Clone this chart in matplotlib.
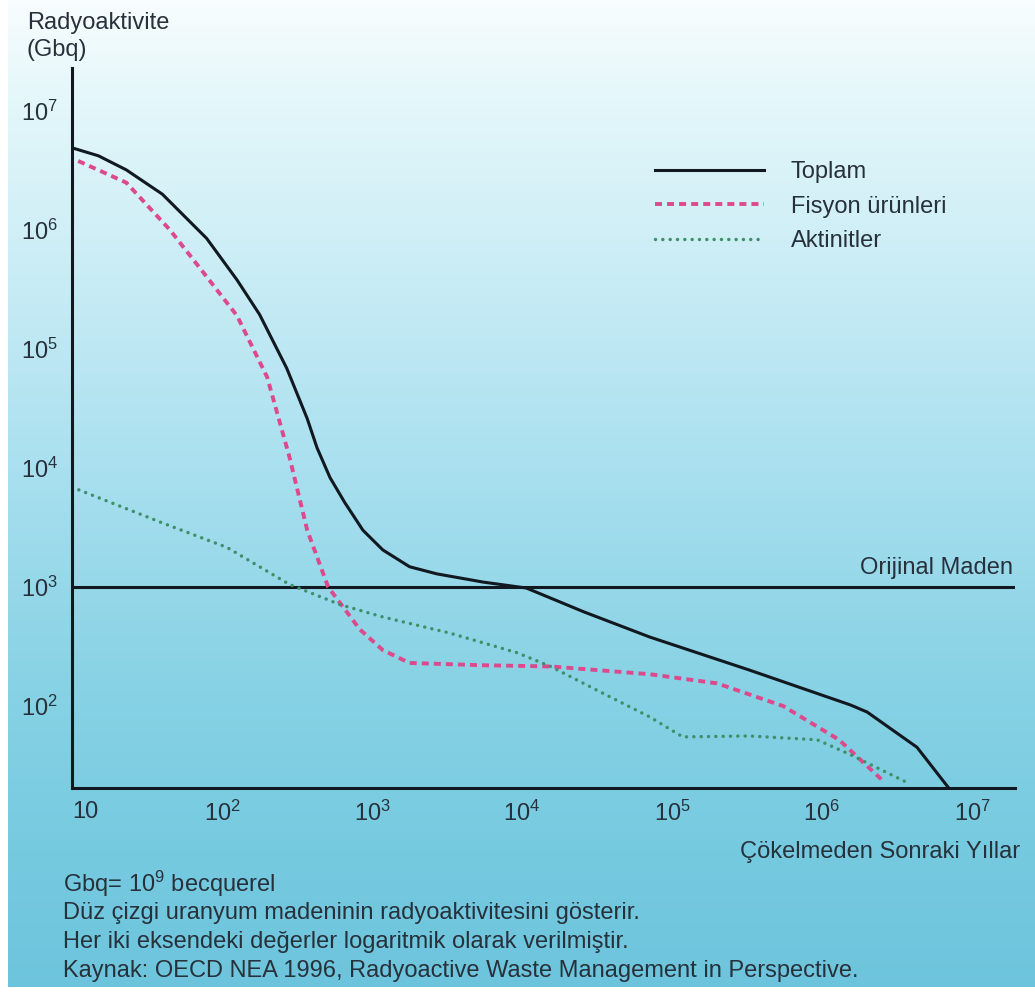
import matplotlib
matplotlib.use('Agg')
import matplotlib.pyplot as plt
import numpy as np
from matplotlib.ticker import NullLocator

plt.rcParams['font.family'] = ['Liberation Sans', 'DejaVu Sans']
plt.rcParams['mathtext.fontset'] = 'custom'
plt.rcParams['mathtext.rm'] = 'Liberation Sans'
plt.rcParams['mathtext.it'] = 'Liberation Sans:italic'

# okunan degerler (log-log grafikten)
toplam_yil = [10, 15, 23, 40, 79, 126, 178, 270, 370, 430, 525, 660, 870, 1180,
              1780, 2700, 5500, 10700, 25700, 71000, 330000, 1550000, 2000000,
              4300000, 7100000]
toplam_gbq = [4.9e6, 4.2e6, 3.2e6, 2.0e6, 8.5e5, 3.8e5, 1.95e5, 6.9e4, 2.6e4,
              1.48e4, 8300, 5100, 3000, 2050, 1480, 1290, 1100, 980, 620, 380,
              200, 102, 89, 45, 20]

fisyon_yil = [11, 23, 45, 74, 126, 200, 282, 370, 510, 830, 1180, 1780, 5500,
              15500, 71000, 200000, 550000, 1300000, 2600000]
fisyon_gbq = [3.8e6, 2.5e6, 1.0e6, 4.5e5, 1.9e5, 5.8e4, 1.23e4, 3000, 1000, 440,
              295, 230, 220, 215, 185, 155, 100, 52, 23]

aktinit_yil = [10, 39, 108, 282, 615, 1180, 3300, 9300, 15500, 33000, 71000,
               118000, 330000, 930000, 1550000, 3900000]
aktinit_gbq = [6900, 3500, 2150, 1050, 710, 560, 410, 280, 215, 132, 81,
               55, 56, 52, 39, 22]

orijinal_yil = [10, 2e7]
orijinal_gbq = [1000, 1000]

x_ticks = [10, 1e2, 1e3, 1e4, 1e5, 1e6, 1e7]
x_labels = ['10'] + [r'$\mathregular{10^{%d}}$' % k for k in range(2, 8)]
y_ticks = [1e2, 1e3, 1e4, 1e5, 1e6, 1e7]
y_labels = [r'$\mathregular{10^{%d}}$' % k for k in range(2, 8)]

W, H = 1035, 994
txt = '#27313b'
fs = 17

fig = plt.figure(figsize=(W / 100, H / 100), dpi=100)

# taranmis sayfanin mavi zemini
bg = fig.add_axes([0, 0, 1, 1], zorder=-10)
stops_y = [0, 100, 250, 450, 650, 850, 994]
stops_c = np.array([[248, 253, 254], [228, 247, 250], [205, 238, 246],
                    [172, 225, 240], [140, 212, 230], [118, 202, 224],
                    [108, 196, 220]]) / 255
yy = np.arange(H)
grad = np.stack([np.interp(yy, stops_y, stops_c[:, k]) for k in range(3)], axis=1)
bg.imshow(grad[:, None, :], aspect='auto', extent=[0, 1, 0, 1])
bg.axvspan(0, 8 / W, color='white', lw=0)
bg.axhspan(0, 7 / H, color='white', lw=0)
bg.set_xlim(0, 1)
bg.set_ylim(0, 1)
bg.axis('off')

ax = fig.add_axes([72 / W, 1 - 788 / H, (1015 - 72) / W, (788 - 68) / H])
ax.set_facecolor('none')

ax.plot(orijinal_yil, orijinal_gbq, color='#111820', lw=2.2)
l1, = ax.plot(toplam_yil, toplam_gbq, color='#111820', lw=2.2, label='Toplam')
l2, = ax.plot(fisyon_yil, fisyon_gbq, color='#dc4a8c', lw=2.8,
              dashes=(1.8, 1.3), label='Fisyon ürünleri')
l3, = ax.plot(aktinit_yil, aktinit_gbq, color='#3f8f6b', lw=2.5,
              dashes=(0.01, 2.1), dash_capstyle='round', label='Aktinitler')

ax.set_xscale('log')
ax.set_yscale('log')
ax.set_xlim(10, 10 ** 7.287)
ax.set_ylim(10 ** 1.311, 10 ** 7.361)
ax.set_xticks(x_ticks, x_labels)
ax.set_yticks(y_ticks, y_labels)
ax.xaxis.set_minor_locator(NullLocator())
ax.yaxis.set_minor_locator(NullLocator())
ax.tick_params(axis='both', length=0, labelsize=fs, labelcolor=txt)
ax.tick_params(axis='x', pad=9)
ax.tick_params(axis='y', pad=10)
ax.get_xticklabels()[0].set_horizontalalignment('left')
ax.get_xticklabels()[0].set_x(10.2)
for s in ['top', 'right']:
    ax.spines[s].set_visible(False)
for s in ['left', 'bottom']:
    ax.spines[s].set_linewidth(2.2)
    ax.spines[s].set_color('#111820')

fig.legend(handles=[l1, l2, l3], loc='upper left',
           bbox_to_anchor=(655 / W, 1 - 161 / H), frameon=False,
           fontsize=fs, labelcolor=txt, handlelength=4.6, handletextpad=1.15,
           labelspacing=0.53, borderpad=0, borderaxespad=0)

fig.text(1013 / W, 1 - 568 / H, 'Orijinal Maden', ha='right', va='center',
         fontsize=fs, color=txt)
fig.text(27 / W, 1 - 23 / H, 'Radyoaktivite', ha='left', va='center',
         fontsize=fs, color=txt)
fig.text(27 / W, 1 - 50 / H, '(Gbq)', ha='left', va='center',
         fontsize=fs, color=txt)
fig.text(1020 / W, 1 - 852 / H, 'Çökelmeden Sonraki Yıllar', ha='right',
         va='center', fontsize=fs, color=txt)

notlar = [r'Gbq= $\mathregular{10^{9}}$ becquerel',
          'Düz çizgi uranyum madeninin radyoaktivitesini gösterir.',
          'Her iki eksendeki değerler logaritmik olarak verilmiştir.',
          'Kaynak: OECD NEA 1996, Radyoactive Waste Management in Perspective.']
for k, s in enumerate(notlar):
    fig.text(63 / W, 1 - (884 + 29 * k) / H, s, ha='left', va='center',
             fontsize=fs, color=txt)

fig.savefig('out.png', dpi=100)
